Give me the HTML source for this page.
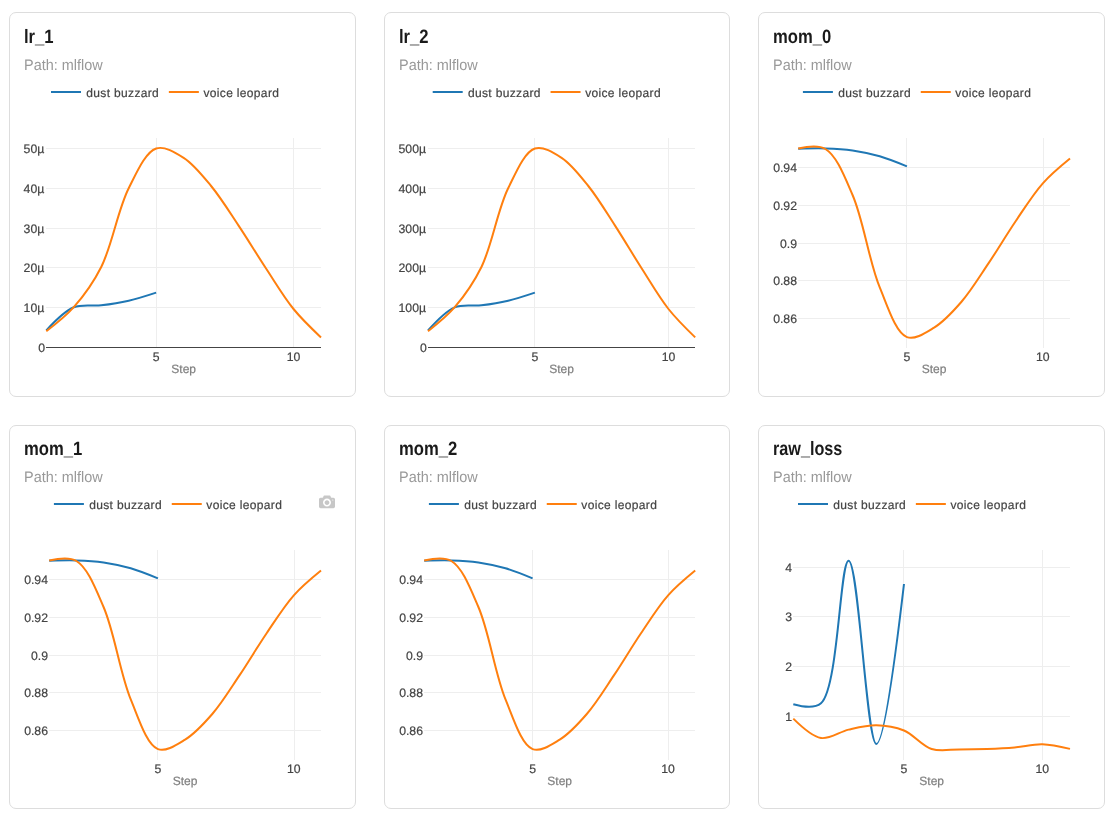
<!DOCTYPE html>
<html lang="en">
<head>
<meta charset="utf-8">
<title>Metrics</title>
<style>
html,body{margin:0;padding:0;background:#fff;}
body{width:1116px;height:822px;position:relative;overflow:hidden;font-family:"Liberation Sans",sans-serif;}
.card{position:absolute;box-sizing:border-box;border:1px solid #ddd;border-radius:7px;background:#fff;}
.card h3{text-rendering:geometricPrecision;position:absolute;margin:0;left:13.7px;top:14.5px;font-size:19.4px;line-height:1;font-weight:bold;color:#1a1a1a;white-space:nowrap;transform-origin:0 0;transform:scale(0.858,1.0);letter-spacing:0px;}
.card p{text-rendering:geometricPrecision;position:absolute;margin:0;left:14.1px;top:45.0px;font-size:15.2px;line-height:1;color:#999;white-space:nowrap;transform-origin:0 0;transform:scaleX(0.952);}
.card svg{position:absolute;left:-1px;top:-1px;overflow:visible;}
svg text{text-rendering:geometricPrecision;font-family:"Liberation Sans",sans-serif;font-size:12px;fill:#444;stroke:#444;stroke-width:0.2px;}
svg .lg{letter-spacing:0.34px;}
svg .tk{font-size:12.25px;}
svg .ax{fill:#7f7f7f;stroke:#7f7f7f;}
.grid rect{fill:#eee;}
.zero{fill:#444;}
.ln{fill:none;stroke-width:2;stroke-linejoin:round;stroke-linecap:butt;}
</style>
</head>
<body>

<section class="card" style="left:9px;top:12px;width:347px;height:385px">
<h3>lr_1</h3>
<p>Path: mlflow</p>
<svg width="347" height="385" viewBox="9 12 347 385">
<g class="grid" shape-rendering="crispEdges">
<rect x="156" y="138" width="1" height="209.5"/>
<rect x="293" y="138" width="1" height="209.5"/>
<rect x="46.3" y="307" width="274.7" height="1"/>
<rect x="46.3" y="267" width="274.7" height="1"/>
<rect x="46.3" y="228" width="274.7" height="1"/>
<rect x="46.3" y="188" width="274.7" height="1"/>
<rect x="46.3" y="148" width="274.7" height="1"/>
</g>
<rect class="zero" shape-rendering="crispEdges" x="46.3" y="347" width="274.7" height="1"/>
<path class="ln" stroke="#1f77b4" d="M46.30,330.40Q63.92,311.30 73.77,307.30C82.40,303.79 92.11,306.39 101.24,305.30C110.42,304.20 119.62,302.79 128.71,300.70Q137.93,298.58 156.18,292.60"/>
<path class="ln" stroke="#ff7f0e" d="M46.30,331.20Q65.18,316.87 73.77,307.20C83.69,296.03 93.02,283.29 101.24,267.00C112.00,245.68 117.92,209.43 128.71,188.20C136.92,172.05 145.53,152.02 156.18,148.50C164.44,145.77 175.09,152.41 183.65,157.80C193.62,164.09 202.38,175.40 211.12,186.00C220.79,197.73 229.56,212.05 238.59,225.60C247.88,239.53 256.81,254.47 266.06,268.50C275.13,282.26 283.83,297.06 293.53,309.00Q302.25,319.73 321.00,337.40"/>
<text class="tk" x="156.18" y="360.7" text-anchor="middle">5</text>
<text class="tk" x="293.53" y="360.7" text-anchor="middle">10</text>
<text class="tk" x="45.1" y="351.5" text-anchor="end">0</text>
<text class="tk" x="44.3" y="311.5" text-anchor="end">10µ</text>
<text class="tk" x="44.3" y="271.5" text-anchor="end">20µ</text>
<text class="tk" x="44.3" y="232.5" text-anchor="end">30µ</text>
<text class="tk" x="44.3" y="192.5" text-anchor="end">40µ</text>
<text class="tk" x="44.3" y="152.5" text-anchor="end">50µ</text>
<text class="ax" x="183.65" y="372.7" text-anchor="middle">Step</text>
<path class="ln" stroke="#1f77b4" d="M51.0,92h30"/>
<text class="lg" x="86.3" y="96.6">dust buzzard</text>
<path class="ln" stroke="#ff7f0e" d="M168.85,92h30"/>
<text class="lg" x="203.45" y="96.6">voice leopard</text>
</svg>
</section>
<section class="card" style="left:384px;top:12px;width:346px;height:385px">
<h3>lr_2</h3>
<p>Path: mlflow</p>
<svg width="346" height="385" viewBox="384 12 346 385">
<g class="grid" shape-rendering="crispEdges">
<rect x="534" y="138" width="1" height="209.5"/>
<rect x="668" y="138" width="1" height="209.5"/>
<rect x="428.0" y="307" width="267.20000000000005" height="1"/>
<rect x="428.0" y="267" width="267.20000000000005" height="1"/>
<rect x="428.0" y="228" width="267.20000000000005" height="1"/>
<rect x="428.0" y="188" width="267.20000000000005" height="1"/>
<rect x="428.0" y="148" width="267.20000000000005" height="1"/>
</g>
<rect class="zero" shape-rendering="crispEdges" x="428.0" y="347" width="267.20000000000005" height="1"/>
<path class="ln" stroke="#1f77b4" d="M428.00,330.40Q445.11,311.29 454.72,307.30C463.09,303.82 472.56,306.39 481.44,305.30C490.37,304.20 499.32,302.79 508.16,300.70Q517.13,298.58 534.88,292.60"/>
<path class="ln" stroke="#ff7f0e" d="M428.00,331.20Q446.38,316.85 454.72,307.20C464.39,296.01 473.45,283.26 481.44,267.00C491.93,245.66 497.64,209.45 508.16,188.20C516.14,172.08 524.46,151.97 534.88,148.50C542.89,145.83 553.29,152.43 561.60,157.80C571.33,164.09 579.83,175.41 588.32,186.00C597.74,197.74 606.26,212.05 615.04,225.60C624.08,239.53 632.76,254.46 641.76,268.50C650.58,282.25 659.03,297.05 668.48,309.00Q676.95,319.71 695.20,337.40"/>
<text class="tk" x="534.88" y="360.7" text-anchor="middle">5</text>
<text class="tk" x="668.48" y="360.7" text-anchor="middle">10</text>
<text class="tk" x="426.8" y="351.5" text-anchor="end">0</text>
<text class="tk" x="426.0" y="311.5" text-anchor="end">100µ</text>
<text class="tk" x="426.0" y="271.5" text-anchor="end">200µ</text>
<text class="tk" x="426.0" y="232.5" text-anchor="end">300µ</text>
<text class="tk" x="426.0" y="192.5" text-anchor="end">400µ</text>
<text class="tk" x="426.0" y="152.5" text-anchor="end">500µ</text>
<text class="ax" x="561.6" y="372.7" text-anchor="middle">Step</text>
<path class="ln" stroke="#1f77b4" d="M432.7,92h30"/>
<text class="lg" x="468.0" y="96.6">dust buzzard</text>
<path class="ln" stroke="#ff7f0e" d="M550.55,92h30"/>
<text class="lg" x="585.15" y="96.6">voice leopard</text>
</svg>
</section>
<section class="card" style="left:758px;top:12px;width:347px;height:385px">
<h3>mom_0</h3>
<p>Path: mlflow</p>
<svg width="347" height="385" viewBox="758 12 347 385">
<g class="grid" shape-rendering="crispEdges">
<rect x="906" y="138" width="1" height="209.5"/>
<rect x="1043" y="138" width="1" height="209.5"/>
<rect x="798.2" y="318" width="271.79999999999995" height="1"/>
<rect x="798.2" y="280" width="271.79999999999995" height="1"/>
<rect x="798.2" y="243" width="271.79999999999995" height="1"/>
<rect x="798.2" y="205" width="271.79999999999995" height="1"/>
<rect x="798.2" y="167" width="271.79999999999995" height="1"/>
</g>
<path class="ln" stroke="#1f77b4" d="M798.20,148.70Q816.33,148.12 825.38,148.40C834.45,148.68 843.55,149.10 852.56,150.40C861.67,151.72 870.77,153.67 879.74,156.30Q888.90,158.98 906.92,166.40"/>
<path class="ln" stroke="#ff7f0e" d="M798.20,148.50Q817.40,144.35 825.38,149.00C836.57,155.52 844.49,176.42 852.56,195.00C863.40,219.95 869.12,261.81 879.74,287.40C887.88,307.03 895.73,332.80 906.92,337.10C914.90,340.17 925.56,332.79 934.10,327.60C943.83,321.69 952.69,311.90 961.28,302.00C970.94,290.86 979.53,276.65 988.46,263.40C997.66,249.74 1006.41,234.78 1015.64,221.20C1024.54,208.11 1033.16,194.17 1042.82,183.30Q1051.40,173.64 1070.00,158.50"/>
<text class="tk" x="906.92" y="360.7" text-anchor="middle">5</text>
<text class="tk" x="1042.82" y="360.7" text-anchor="middle">10</text>
<text class="tk" x="797.0" y="322.5" text-anchor="end">0.86</text>
<text class="tk" x="797.0" y="284.5" text-anchor="end">0.88</text>
<text class="tk" x="797.0" y="247.5" text-anchor="end">0.9</text>
<text class="tk" x="797.0" y="209.5" text-anchor="end">0.92</text>
<text class="tk" x="797.0" y="171.5" text-anchor="end">0.94</text>
<text class="ax" x="934.1" y="372.7" text-anchor="middle">Step</text>
<path class="ln" stroke="#1f77b4" d="M802.9,92h30"/>
<text class="lg" x="838.2" y="96.6">dust buzzard</text>
<path class="ln" stroke="#ff7f0e" d="M920.75,92h30"/>
<text class="lg" x="955.35" y="96.6">voice leopard</text>
</svg>
</section>
<section class="card" style="left:9px;top:425px;width:347px;height:384px">
<h3 style="margin-top:-1px">mom_1</h3>
<p style="margin-top:-1px">Path: mlflow</p>
<svg width="347" height="384" viewBox="9 425 347 384">
<g class="grid" shape-rendering="crispEdges">
<rect x="157" y="550" width="1" height="209.5"/>
<rect x="294" y="550" width="1" height="209.5"/>
<rect x="49.2" y="730" width="271.8" height="1"/>
<rect x="49.2" y="692" width="271.8" height="1"/>
<rect x="49.2" y="655" width="271.8" height="1"/>
<rect x="49.2" y="617" width="271.8" height="1"/>
<rect x="49.2" y="579" width="271.8" height="1"/>
</g>
<path class="ln" stroke="#1f77b4" d="M49.20,560.70Q67.33,560.12 76.38,560.40C85.45,560.68 94.55,561.10 103.56,562.40C112.67,563.72 121.77,565.67 130.74,568.30Q139.90,570.98 157.92,578.40"/>
<path class="ln" stroke="#ff7f0e" d="M49.20,560.50Q68.40,556.35 76.38,561.00C87.57,567.52 95.49,588.42 103.56,607.00C114.40,631.95 120.12,673.81 130.74,699.40C138.88,719.03 146.73,744.80 157.92,749.10C165.90,752.17 176.56,744.79 185.10,739.60C194.83,733.69 203.69,723.90 212.28,714.00C221.94,702.86 230.53,688.65 239.46,675.40C248.66,661.74 257.41,646.78 266.64,633.20C275.54,620.11 284.16,606.17 293.82,595.30Q302.40,585.64 321.00,570.50"/>
<text class="tk" x="157.92" y="772.7" text-anchor="middle">5</text>
<text class="tk" x="293.82" y="772.7" text-anchor="middle">10</text>
<text class="tk" x="48.0" y="734.5" text-anchor="end">0.86</text>
<text class="tk" x="48.0" y="696.5" text-anchor="end">0.88</text>
<text class="tk" x="48.0" y="659.5" text-anchor="end">0.9</text>
<text class="tk" x="48.0" y="621.5" text-anchor="end">0.92</text>
<text class="tk" x="48.0" y="583.5" text-anchor="end">0.94</text>
<text class="ax" x="185.1" y="784.7" text-anchor="middle">Step</text>
<path class="ln" stroke="#1f77b4" d="M53.9,504h30"/>
<text class="lg" x="89.2" y="508.6">dust buzzard</text>
<path class="ln" stroke="#ff7f0e" d="M171.75,504h30"/>
<text class="lg" x="206.35" y="508.6">voice leopard</text>
<g transform="translate(319,493.8)"><path fill="#c7c7c7" transform="scale(0.016) matrix(1 0 0 -1 0 850)" d="m500 450c-83 0-150-67-150-150 0-83 67-150 150-150 83 0 150 67 150 150 0 83-67 150-150 150z m400 150h-120c-16 0-34 13-39 29l-31 93c-6 15-23 28-40 28h-340c-16 0-34-13-39-28l-31-94c-6-15-23-28-40-28h-120c-55 0-100-45-100-100v-450c0-55 45-100 100-100h800c55 0 100 45 100 100v450c0 55-45 100-100 100z m-400-550c-138 0-250 112-250 250 0 138 112 250 250 250 138 0 250-112 250-250 0-138-112-250-250-250z m365 380c-19 0-35 16-35 35 0 19 16 35 35 35 19 0 35-16 35-35 0-19-16-35-35-35z"/></g>
</svg>
</section>
<section class="card" style="left:384px;top:425px;width:346px;height:384px">
<h3 style="margin-top:-1px">mom_2</h3>
<p style="margin-top:-1px">Path: mlflow</p>
<svg width="346" height="384" viewBox="384 425 346 384">
<g class="grid" shape-rendering="crispEdges">
<rect x="532" y="550" width="1" height="209.5"/>
<rect x="668" y="550" width="1" height="209.5"/>
<rect x="424.2" y="730" width="271.00000000000006" height="1"/>
<rect x="424.2" y="692" width="271.00000000000006" height="1"/>
<rect x="424.2" y="655" width="271.00000000000006" height="1"/>
<rect x="424.2" y="617" width="271.00000000000006" height="1"/>
<rect x="424.2" y="579" width="271.00000000000006" height="1"/>
</g>
<path class="ln" stroke="#1f77b4" d="M424.20,560.70Q442.27,560.12 451.30,560.40C460.34,560.68 469.41,561.10 478.40,562.40C487.48,563.72 496.56,565.68 505.50,568.30Q514.63,570.98 532.60,578.40"/>
<path class="ln" stroke="#ff7f0e" d="M424.20,560.50Q443.35,556.36 451.30,561.00C462.46,567.52 470.35,588.42 478.40,607.00C489.21,631.95 494.91,673.80 505.50,699.40C513.62,719.03 521.44,744.81 532.60,749.10C540.55,752.16 551.18,744.79 559.70,739.60C569.40,733.69 578.24,723.90 586.80,714.00C596.43,702.86 605.00,688.65 613.90,675.40C623.08,661.74 631.79,646.78 641.00,633.20C649.87,620.11 658.46,606.17 668.10,595.30Q676.66,585.65 695.20,570.50"/>
<text class="tk" x="532.6" y="772.7" text-anchor="middle">5</text>
<text class="tk" x="668.1" y="772.7" text-anchor="middle">10</text>
<text class="tk" x="423.0" y="734.5" text-anchor="end">0.86</text>
<text class="tk" x="423.0" y="696.5" text-anchor="end">0.88</text>
<text class="tk" x="423.0" y="659.5" text-anchor="end">0.9</text>
<text class="tk" x="423.0" y="621.5" text-anchor="end">0.92</text>
<text class="tk" x="423.0" y="583.5" text-anchor="end">0.94</text>
<text class="ax" x="559.7" y="784.7" text-anchor="middle">Step</text>
<path class="ln" stroke="#1f77b4" d="M428.9,504h30"/>
<text class="lg" x="464.2" y="508.6">dust buzzard</text>
<path class="ln" stroke="#ff7f0e" d="M546.75,504h30"/>
<text class="lg" x="581.35" y="508.6">voice leopard</text>
</svg>
</section>
<section class="card" style="left:758px;top:425px;width:347px;height:384px">
<h3 style="margin-top:-1px;transform:scale(0.836,1)">raw_loss</h3>
<p style="margin-top:-1px">Path: mlflow</p>
<svg width="347" height="384" viewBox="758 425 347 384">
<g class="grid" shape-rendering="crispEdges">
<rect x="903" y="550" width="1" height="209.5"/>
<rect x="1042" y="550" width="1" height="209.5"/>
<rect x="793.3" y="716" width="276.70000000000005" height="1"/>
<rect x="793.3" y="666" width="276.70000000000005" height="1"/>
<rect x="793.3" y="616" width="276.70000000000005" height="1"/>
<rect x="793.3" y="567" width="276.70000000000005" height="1"/>
</g>
<path class="ln" stroke="#1f77b4" d="M793.30,704.30Q813.33,709.84 820.97,703.30C838.48,688.32 839.91,560.52 848.64,560.70C858.50,560.91 866.76,743.80 876.31,743.90Q885.25,744.00 903.98,584.00"/>
<path class="ln" stroke="#ff7f0e" d="M793.30,718.60Q811.36,736.46 820.97,738.00C829.86,739.42 839.34,731.74 848.64,729.60C857.79,727.49 867.10,725.05 876.31,725.20C885.55,725.35 895.11,726.86 903.98,730.50C913.62,734.46 921.96,745.98 931.65,749.00C940.49,751.75 950.10,749.42 959.32,749.40C968.54,749.38 977.77,749.23 986.99,748.90C996.22,748.57 1005.45,748.18 1014.66,747.40C1023.90,746.62 1033.12,743.96 1042.33,744.20Q1051.57,744.45 1070.00,748.90"/>
<text class="tk" x="903.98" y="772.7" text-anchor="middle">5</text>
<text class="tk" x="1042.33" y="772.7" text-anchor="middle">10</text>
<text class="tk" x="792.1" y="720.5" text-anchor="end">1</text>
<text class="tk" x="792.1" y="670.5" text-anchor="end">2</text>
<text class="tk" x="792.1" y="620.5" text-anchor="end">3</text>
<text class="tk" x="792.1" y="571.5" text-anchor="end">4</text>
<text class="ax" x="931.65" y="784.7" text-anchor="middle">Step</text>
<path class="ln" stroke="#1f77b4" d="M798.0,504h30"/>
<text class="lg" x="833.3" y="508.6">dust buzzard</text>
<path class="ln" stroke="#ff7f0e" d="M915.85,504h30"/>
<text class="lg" x="950.45" y="508.6">voice leopard</text>
</svg>
</section>
</body>
</html>
